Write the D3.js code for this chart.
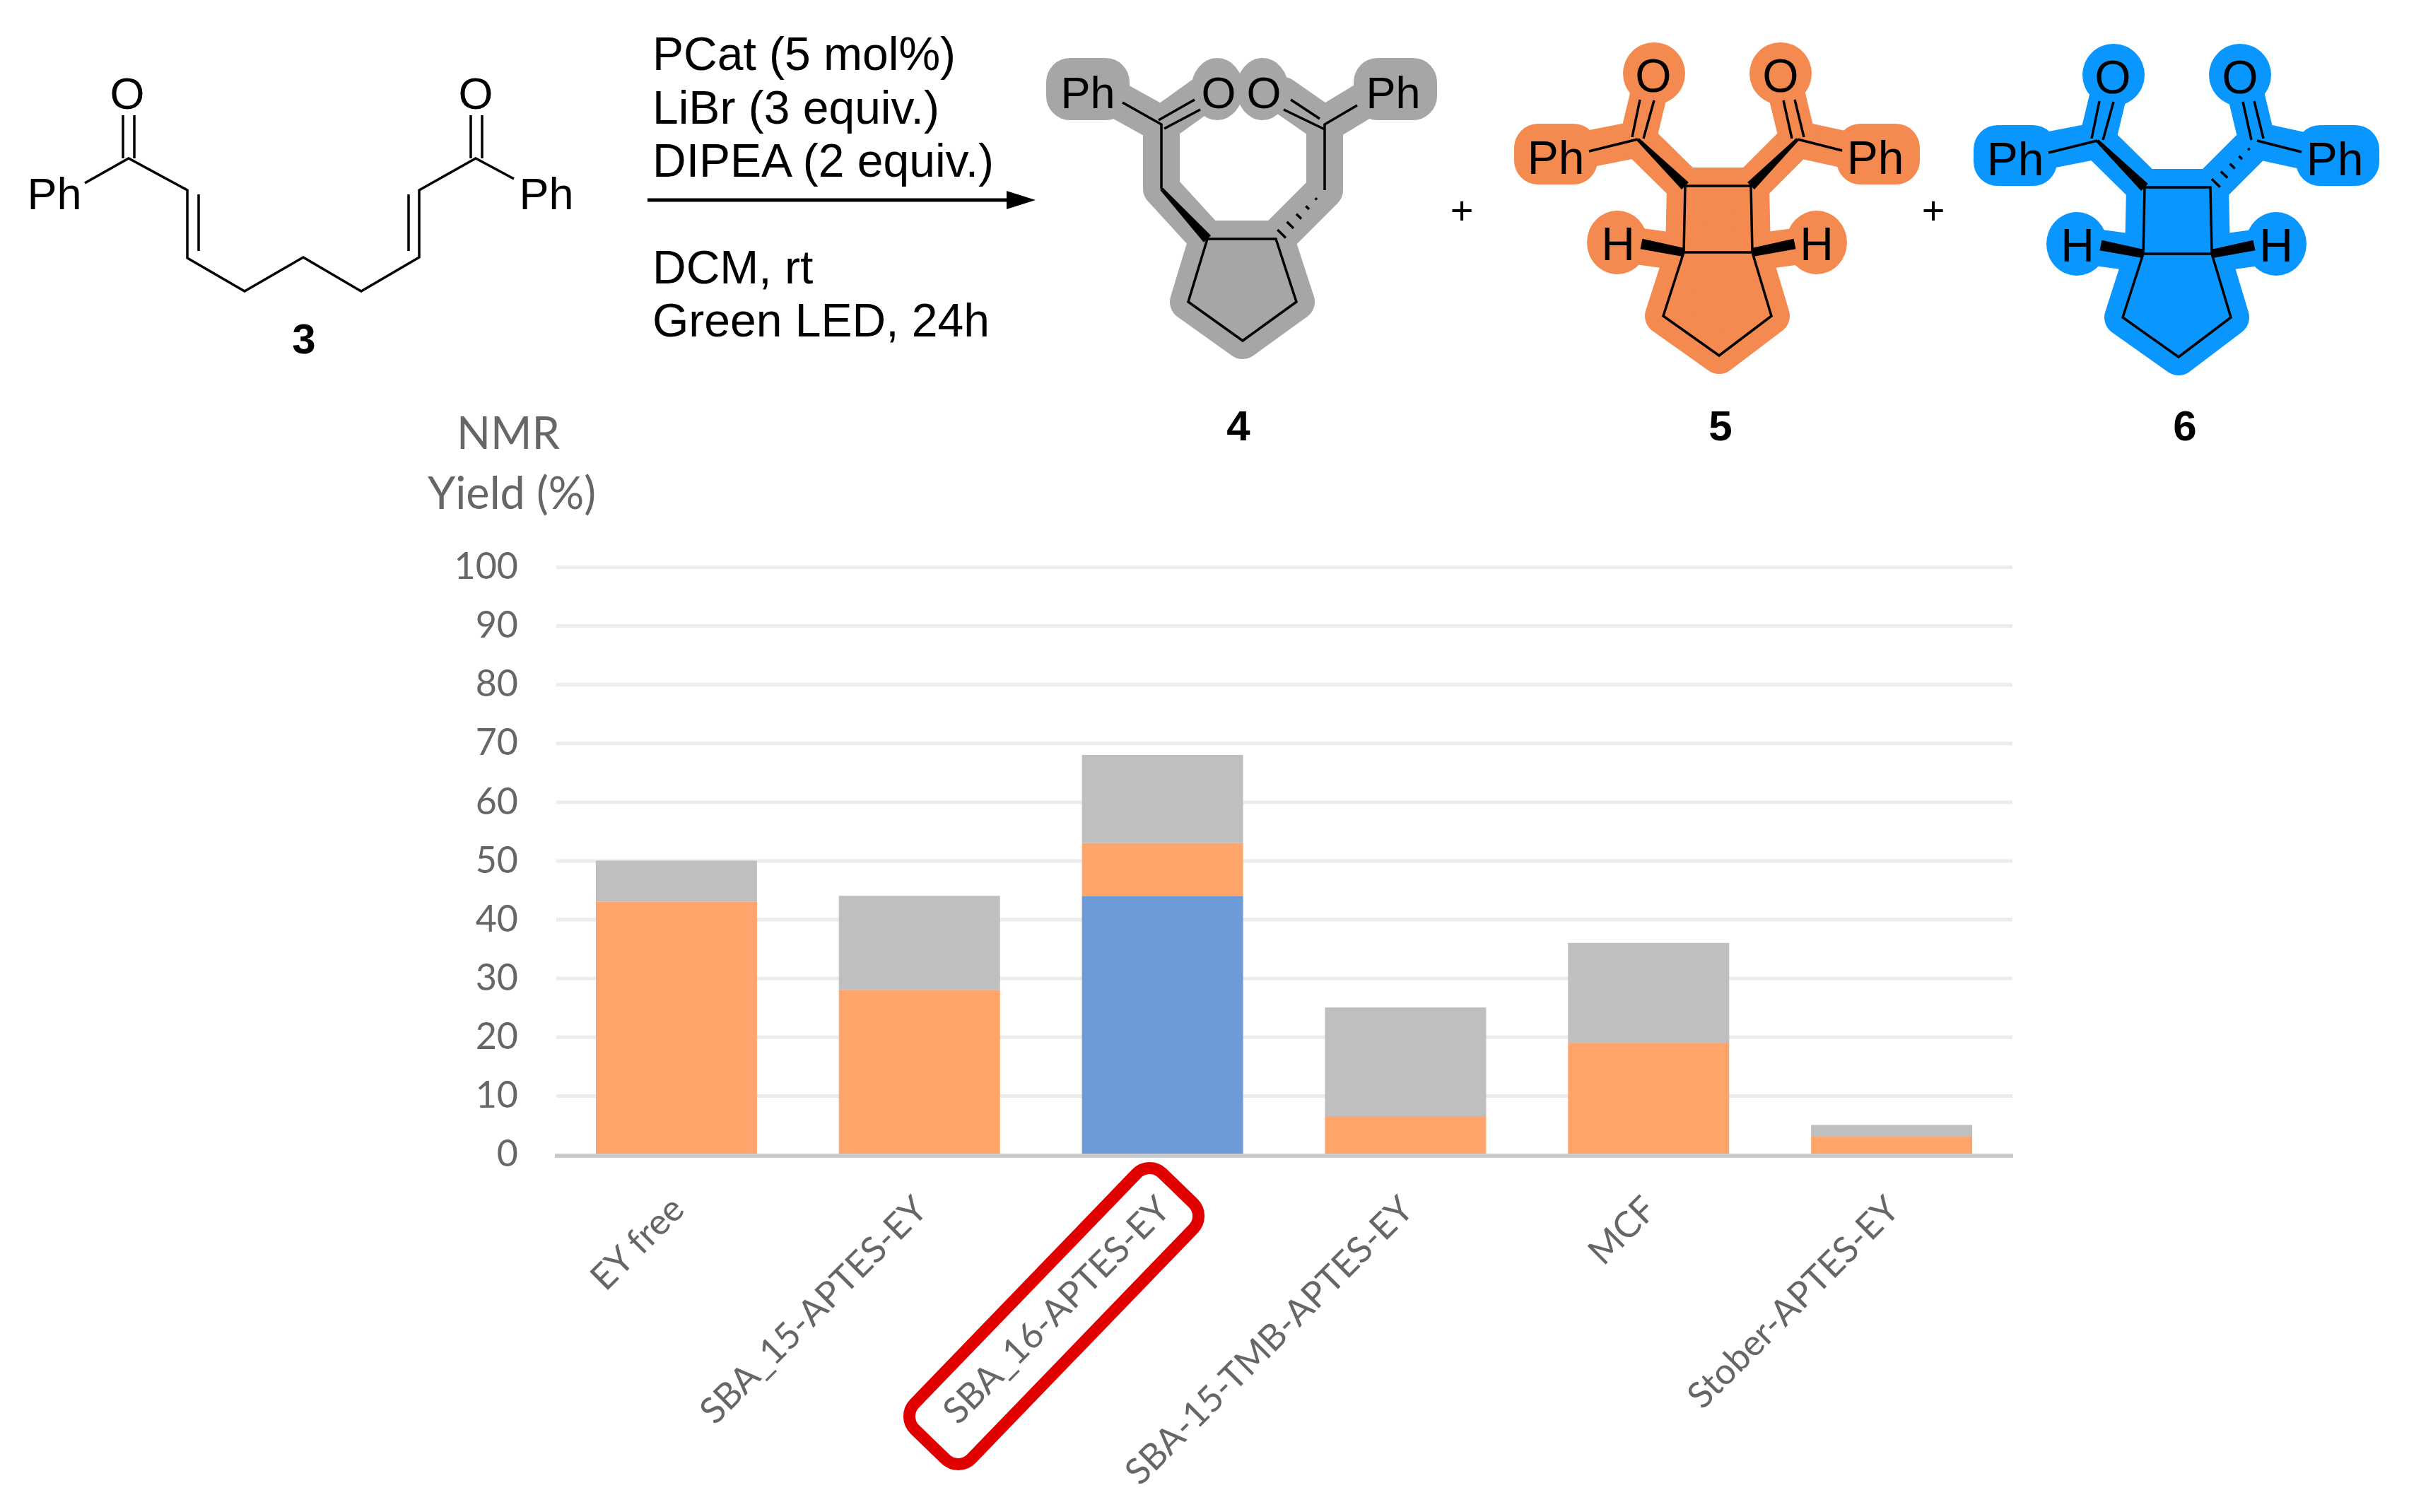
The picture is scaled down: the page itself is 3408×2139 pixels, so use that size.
<!DOCTYPE html>
<html>
<head>
<meta charset="utf-8">
<script src="https://cdn.jsdelivr.net/npm/d3@7"></script>
<style>
  html, body { margin: 0; padding: 0; background: #fff; }
  svg { display: block; }
  .chem { font-family: "Liberation Sans", Arial, sans-serif; fill: #000; }
  .excel { font-family: Lato, "Open Sans", sans-serif; fill: #666; }
</style>
</head>
<body>
<div id="chart"></div>
<script>
// chart data
const categories = ["EY free", "SBA_15-APTES-EY", "SBA_16-APTES-EY", "SBA-15-TMB-APTES-EY", "MCF", "Stober-APTES-EY"];
const blueValues = [0, 0, 44, 0, 0, 0];
const orangeValues = [43, 28, 9, 6.5, 19, 3];
const greyValues = [7, 16, 15, 18.5, 17, 2];
const yTicks = [0, 10, 20, 30, 40, 50, 60, 70, 80, 90, 100];
const seriesColors = ["#6C9BD8", "#FFA56C", "#BFBFBF"];

const conditionsTop = ["PCat (5 mol%)", "LiBr (3 equiv.)", "DIPEA (2 equiv.)"];
const conditionsBottom = ["DCM, rt", "Green LED, 24h"];

const svg = d3.select("#chart").append("svg")
  .attr("width", 3408)
  .attr("height", 2139);

// ---- bar chart ----
const x = d3.scaleBand().domain(categories).range([785, 2848]).paddingInner(0.337).paddingOuter(0.1685);
const y = d3.scaleLinear().domain([0, 100]).range([1633, 802]);

const grid = svg.append("g")
  .attr("transform", "translate(787,0)")
  .call(d3.axisLeft(y).tickValues(yTicks.slice(1)).tickSize(-2060).tickFormat(""));
grid.select(".domain").remove();
grid.selectAll("line").attr("stroke", "#ECECEC").attr("stroke-width", 5);

const rows = categories.map((c, i) => ({ cat: c, blue: blueValues[i], orange: orangeValues[i], grey: greyValues[i] }));
const stacked = d3.stack().keys(["blue", "orange", "grey"])(rows);

svg.append("g").selectAll("g")
  .data(stacked)
  .enter().append("g")
  .attr("fill", (d, i) => seriesColors[i])
  .selectAll("rect")
  .data(d => d)
  .enter().append("rect")
  .attr("x", d => x(d.data.cat))
  .attr("y", d => y(d[1]))
  .attr("width", x.bandwidth())
  .attr("height", d => y(d[0]) - y(d[1]));

// Y axis labels
const yAxis = svg.append("g")
  .attr("class", "excel")
  .attr("transform", "translate(733,0)")
  .call(d3.axisLeft(y).tickValues(yTicks).tickSize(0).tickPadding(0));
yAxis.select(".domain").remove();
yAxis.selectAll("text")
  .attr("class", "excel")
  .style("font-size", "52px");

// X axis, labels turned 45 degrees
const xAxis = svg.append("g")
  .attr("transform", "translate(0,1635)")
  .call(d3.axisBottom(x).tickSize(0).tickFormat(""));
xAxis.select(".domain").attr("stroke", "#C9CCCE").attr("stroke-width", 6).attr("d", "M785,0H2848");

svg.append("g").selectAll("text")
  .data(categories)
  .enter().append("text")
  .attr("class", "excel")
  .attr("text-anchor", "end")
  .attr("transform", d => `translate(${x(d) + x.bandwidth() / 2 + 14},1714) rotate(-45)`)
  .style("font-size", "51px")
  .text(d => d);

svg.append("text").attr("class", "excel").attr("x", 719).attr("y", 635)
  .attr("text-anchor", "middle").style("font-size", "63px").text("NMR");
svg.append("text").attr("class", "excel").attr("x", 724).attr("y", 720)
  .attr("text-anchor", "middle").style("font-size", "63px").text("Yield (%)");

// red box round the best catalyst
svg.append("rect")
  .attr("x", -252).attr("y", -56).attr("width", 504).attr("height", 112)
  .attr("rx", 26)
  .attr("transform", "translate(1491,1862) rotate(-46)")
  .attr("fill", "none")
  .attr("stroke", "#E00000")
  .attr("stroke-width", 17);

// ---- reaction scheme ----
const line = d3.line();

function bond(g, pts, w) {
  g.append("path").attr("d", line(pts)).attr("fill", "none")
    .attr("stroke", "#000").attr("stroke-width", w || 3.5);
}

// a is the narrow end, b the wide one
function wedge(g, a, b, w, w0) {
  const dx = b[0] - a[0], dy = b[1] - a[1], len = Math.hypot(dx, dy);
  const nx = -dy / len, ny = dx / len;
  const n = w0 || 5;
  g.append("path").attr("d", line([
    [a[0] + nx * n / 2, a[1] + ny * n / 2],
    [b[0] + nx * w / 2, b[1] + ny * w / 2],
    [b[0] - nx * w / 2, b[1] - ny * w / 2],
    [a[0] - nx * n / 2, a[1] - ny * n / 2]
  ]) + "Z").attr("fill", "#000");
}

function hash(g, a, b, w) {
  const dx = b[0] - a[0], dy = b[1] - a[1], len = Math.hypot(dx, dy);
  d3.range(1, 6).forEach(i => {
    const t = i / 5.5, h = w * t / 2;
    const cx = a[0] + dx * t, cy = a[1] + dy * t;
    bond(g, [[cx - dy / len * h, cy + dx / len * h], [cx + dy / len * h, cy - dx / len * h]], 3.5);
  });
}

function atom(g, label, px, py, size) {
  g.append("text").attr("class", "chem").attr("x", px).attr("y", py).attr("dy", "0.36em")
    .attr("text-anchor", "middle").style("font-size", (size || 63) + "px").text(label);
}

function halo(g, color, paths, rings, ellipses, boxes) {
  paths.forEach(p => g.append("path").attr("d", line(p)).attr("fill", "none")
    .attr("stroke", color).attr("stroke-width", 52).attr("stroke-linejoin", "round").attr("stroke-linecap", "round"));
  rings.forEach(p => g.append("path").attr("d", line(p) + "Z").attr("fill", color)
    .attr("stroke", color).attr("stroke-width", 52).attr("stroke-linejoin", "round"));
  ellipses.forEach(e => g.append("ellipse").attr("cx", e[0]).attr("cy", e[1]).attr("rx", e[2]).attr("ry", e[3]).attr("fill", color));
  boxes.forEach(b => g.append("rect").attr("x", b[0]).attr("y", b[1]).attr("width", b[2]).attr("height", b[3]).attr("rx", 34).attr("fill", color));
}

function compoundNumber(label, px, py) {
  svg.append("text").attr("class", "chem").attr("x", px).attr("y", py)
    .attr("text-anchor", "middle").style("font-size", "60px").style("font-weight", "bold").text(label);
}

// compound 3
const g3 = svg.append("g");
bond(g3, [[120, 259], [182, 224], [265, 269], [265, 365], [346, 412], [429, 364], [511, 412], [593, 364], [593, 269], [673, 224], [727, 253]]);
bond(g3, [[174, 224], [174, 163]]);
bond(g3, [[190, 224], [190, 163]]);
bond(g3, [[666, 224], [666, 163]]);
bond(g3, [[682, 224], [682, 163]]);
bond(g3, [[281, 275], [281, 355]]);
bond(g3, [[578, 275], [578, 355]]);
atom(g3, "O", 180, 131);
atom(g3, "O", 673, 131);
atom(g3, "Ph", 77, 273);
atom(g3, "Ph", 773, 273);
compoundNumber("3", 430, 500);

// conditions and arrow
conditionsTop.forEach((t, i) => {
  svg.append("text").attr("class", "chem").attr("x", 923).attr("y", 99 + i * 75.5).style("font-size", "66px").text(t);
});
conditionsBottom.forEach((t, i) => {
  svg.append("text").attr("class", "chem").attr("x", 923).attr("y", 401 + i * 75).style("font-size", "66px").text(t);
});
bond(svg, [[916, 283], [1430, 283]], 5);
svg.append("path").attr("d", line([[1465, 283], [1424, 270], [1424, 296]]) + "Z").attr("fill", "#000");

// plus signs
[2068, 2735].forEach(px => {
  svg.append("text").attr("class", "chem").attr("x", px).attr("y", 297).attr("dy", "0.36em")
    .attr("text-anchor", "middle").style("font-size", "56px").text("+");
});

// compound 4
const g4 = svg.append("g");
const ring4 = [[1708, 338], [1805, 338], [1834, 427], [1758, 482], [1681, 427]];
halo(g4, "#A6A6A6",
  [[[1560, 130], [1643, 176], [1643, 267], [1708, 338]], [[1950, 130], [1874, 176], [1874, 269], [1805, 338]], [[1643, 176], [1700, 135]], [[1874, 176], [1815, 135]]],
  [ring4],
  [[1722, 126, 37, 44], [1786, 126, 37, 44]],
  [[1480, 82, 118, 88], [1915, 82, 118, 88]]);
bond(g4, [[1588, 145], [1643, 176], [1643, 267]]);
bond(g4, [[1920, 149], [1874, 176], [1874, 269]]);
bond(g4, [[1639, 170], [1690, 141]]);
bond(g4, [[1647, 182], [1698, 155]]);
bond(g4, [[1867, 168], [1826, 141]]);
bond(g4, [[1874, 183], [1816, 155]]);
bond(g4, ring4.concat([ring4[0]]));
wedge(g4, [1643, 267], [1708, 338], 14);
hash(g4, [1874, 269], [1807, 337], 18);
atom(g4, "Ph", 1539, 130);
atom(g4, "O", 1724, 130);
atom(g4, "O", 1788, 130);
atom(g4, "Ph", 1971, 130);
compoundNumber("4", 1752, 623);

// compounds 5 and 6 share the same skeleton, 6 is drawn shifted to the right
function bicyclic(color, shift, rightHashed) {
  const g = svg.append("g").attr("transform", `translate(${shift[0]},${shift[1]})`);
  const square = [[2384, 263], [2477, 263], [2479, 357], [2382, 357]];
  const penta = [[2382, 357], [2353, 447], [2432, 503], [2506, 447], [2479, 357]];
  halo(g, color,
    [[[2220, 216], [2317, 197], [2384, 263]], [[2630, 216], [2543, 197], [2477, 263]], [[2317, 197], [2338, 110]], [[2543, 197], [2522, 110]], [[2382, 357], [2300, 346]], [[2479, 357], [2560, 346]]],
    [square, penta],
    [[2340, 104, 44, 44], [2519, 104, 44, 44], [2288, 343, 43, 45], [2570, 343, 43, 45]],
    [[2142, 175, 118, 86], [2598, 175, 118, 86]]);
  bond(g, [[2248, 214], [2317, 197]]);
  bond(g, [[2606, 213], [2543, 197]]);
  bond(g, [[2309, 194], [2320, 141]]);
  bond(g, [[2325, 196], [2340, 142]]);
  bond(g, [[2523, 142], [2535, 196]]);
  bond(g, [[2539, 141], [2552, 194]]);
  bond(g, square.concat([square[0]]));
  bond(g, penta);
  wedge(g, [2317, 197], [2384, 263], 14);
  if (rightHashed) hash(g, [2543, 197], [2479, 263], 18);
  else wedge(g, [2543, 197], [2477, 263], 14);
  wedge(g, [2382, 357], [2322, 345], 15, 12);
  wedge(g, [2479, 357], [2539, 345], 15, 12);
  atom(g, "O", 2339, 106, 66);
  atom(g, "O", 2519, 106, 66);
  atom(g, "Ph", 2201, 222, 66);
  atom(g, "Ph", 2653, 222, 66);
  atom(g, "H", 2289, 344, 66);
  atom(g, "H", 2570, 344, 66);
}
bicyclic("#F58A50", [0, 0], false);
bicyclic("#0A96FF", [650, 2], true);
compoundNumber("5", 2434, 623);
compoundNumber("6", 3091, 623);
</script>
</body>
</html>
